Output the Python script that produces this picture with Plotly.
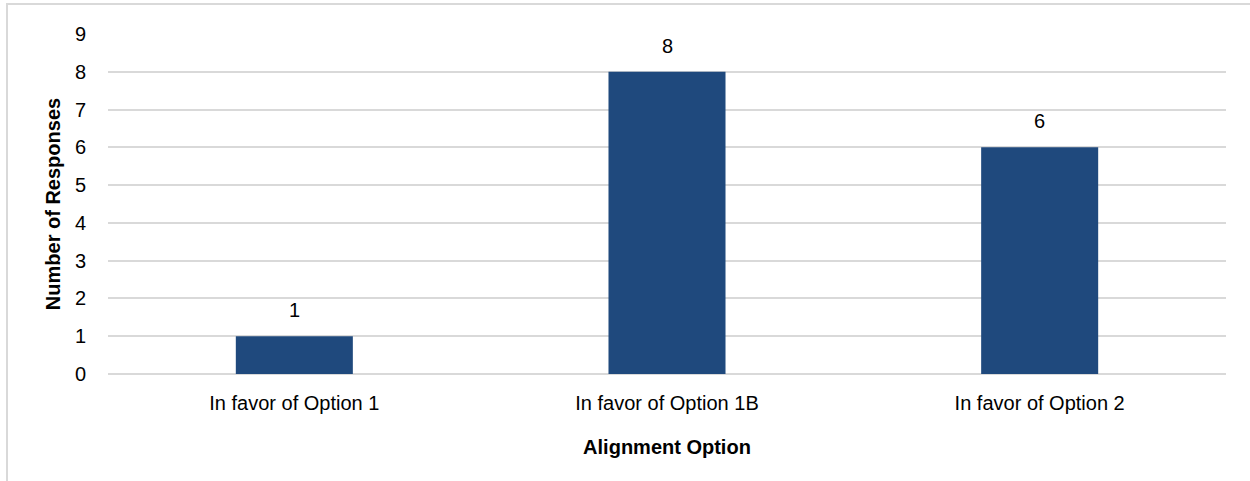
import plotly.graph_objects as go

categories = ["In favor of Option 1", "In favor of Option 1B", "In favor of Option 2"]
responses = [1, 8, 6]
y_ticks = [0, 1, 2, 3, 4, 5, 6, 7, 8, 9]

FONT = "Liberation Sans, Arial, sans-serif"
FS = 20
BAR = "#1F497D"

fig = go.Figure()
fig.add_trace(go.Bar(x=categories, y=responses, marker=dict(color=BAR, line=dict(width=0)),
                     hoverinfo="skip"))

for c, v in zip(categories, responses):
    fig.add_annotation(x=c, y=v, text=str(v), showarrow=False, yanchor="bottom",
                       yshift=13, font=dict(family=FONT, size=FS, color="#000000"))

W, H = 1250, 481
ml, mr, mt, mb = 108, 24, 34, 107
fig.update_layout(
    width=W, height=H,
    margin=dict(l=ml, r=mr, t=mt, b=mb),
    paper_bgcolor="white", plot_bgcolor="white",
    bargap=0.686, showlegend=False,
    font=dict(family=FONT, size=FS, color="#000000"),
    xaxis=dict(showgrid=False, showline=False, ticks="", zeroline=False,
               ticklabelstandoff=15,
               tickfont=dict(family=FONT, size=FS, color="#000000"),
               title=dict(text="<b>Alignment Option</b>", standoff=26,
                          font=dict(family=FONT, size=FS, color="#000000"))),
    yaxis=dict(range=[0, 9], tickvals=y_ticks, showgrid=True, gridcolor="#D9D9D9",
               gridwidth=2, zeroline=True, zerolinecolor="#D9D9D9", zerolinewidth=2,
               showline=False, ticks="", ticklabelstandoff=21,
               tickfont=dict(family=FONT, size=FS, color="#000000"),
               title=dict(text="<b>Number of Responses</b>", standoff=8,
                          font=dict(family=FONT, size=FS, color="#000000"))),
)

pw = W - ml - mr
ph = H - mt - mb
fig.add_shape(type="rect", xref="paper", yref="paper",
              x0=(7 - ml) / pw, x1=(W + 10 - ml) / pw,
              y0=-(H + 10 - mt - ph) / ph, y1=(H - 4 - mb) / ph,
              line=dict(color="#D9D9D9", width=2), fillcolor="rgba(0,0,0,0)", layer="below")

fig.write_html("out.html", config={"displayModeBar": False},
               post_script="document.body.style.margin='0';")
